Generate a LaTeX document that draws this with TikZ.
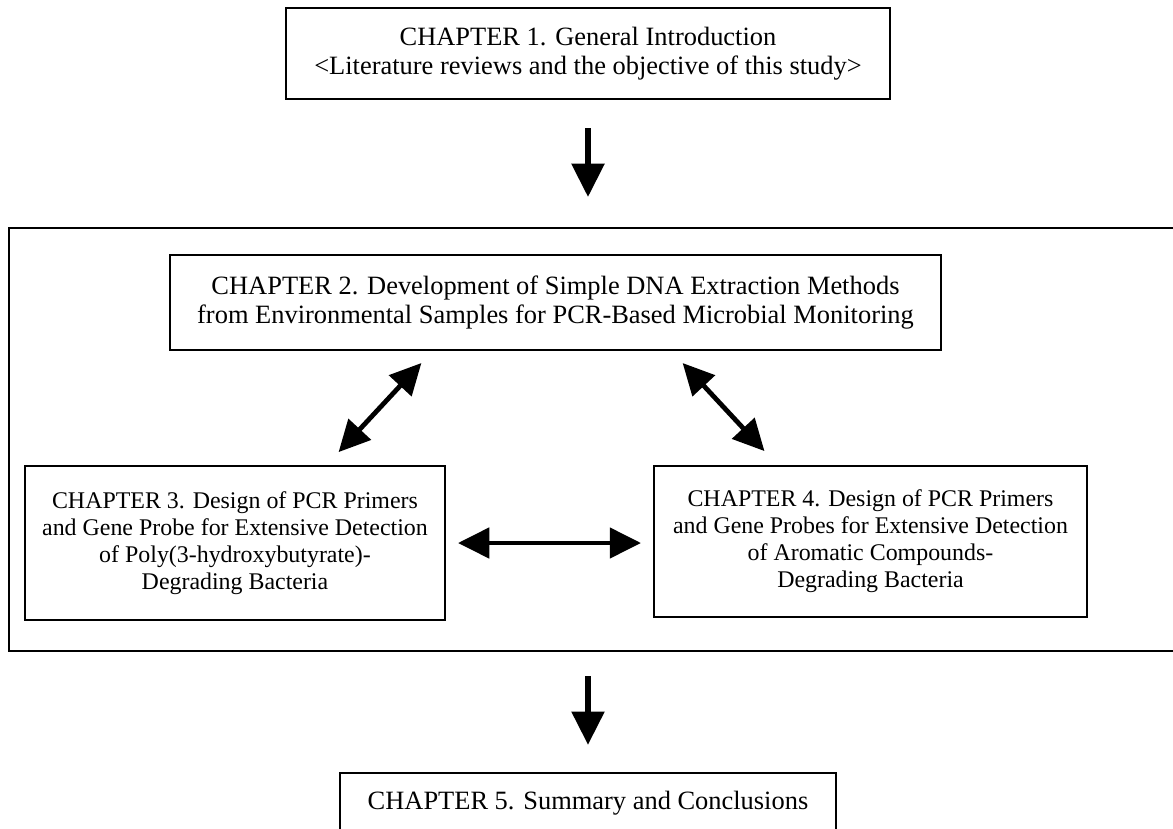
\documentclass[tikz,border=0pt]{standalone}
\usepackage{fontspec}
\setmainfont{Liberation Serif}
\usetikzlibrary{positioning,arrows.meta,calc}
\tikzset{
  box/.style   = {rectangle, draw, line width=1.4pt, align=center,
                  inner xsep=0.7cm, inner ysep=0.2cm,
                  font=\fontsize{18.8}{20.5}\selectfont},
  sidebox/.style = {box, inner xsep=0pt, font=\fontsize{17}{19.2}\selectfont},
  frame/.style = {rectangle, draw, line width=1.4pt},
  arr/.style   = {-{Triangle[length=0.83cm,width=0.8cm]}, line width=3.8pt},
  dbl/.style   = {{Triangle[length=0.78cm,width=0.75cm]}-{Triangle[length=0.78cm,width=0.75cm]},
                  line width=3.4pt}
}
\begin{document}
\begin{tikzpicture}[
      x=0.025cm, y=-0.025cm                  % 1 unit = 1 px of the page
    ]
    \useasboundingbox (0,0) rectangle (1173,829);
    % outer frame round chapters 2-4
    \node[frame, minimum width=29.4cm, minimum height=10.575cm] (grp) at (597,439.5) {};
    \node[box, minimum height=2.275cm] (ch1) at (588,53.5)
      {CHAPTER 1. General Introduction\\
       <Literature reviews and the objective of this study>};
    \node[box, minimum width=19.275cm, minimum height=2.375cm, inner xsep=0pt] (ch2) at (555.5,302.5)
      {CHAPTER 2. Development of Simple DNA Extraction Methods\\
       from Environmental Samples for PCR-Based Microbial Monitoring};
    \node[sidebox, minimum width=10.5cm, minimum height=3.85cm] (ch3) at (235,543)
      {CHAPTER 3. Design of PCR Primers\\
       and Gene Probe for Extensive Detection\\
       of Poly(3-hydroxybutyrate)-\\
       Degrading Bacteria};
    \node[sidebox, minimum width=10.825cm, minimum height=3.775cm] (ch4) at (870.5,541.5)
      {CHAPTER 4. Design of PCR Primers\\
       and Gene Probes for Extensive Detection\\
       of Aromatic Compounds-\\
       Degrading Bacteria};
    \node[box, minimum height=1.5cm] (ch5) at (588,803)
      {CHAPTER 5. Summary and Conclusions};
    % arrows
    \draw[arr, shorten <=0.7cm, shorten >=0.75cm] (ch1.south) -- (ch1.south |- grp.north);
    \draw[arr, shorten <=0.6cm, shorten >=0.68cm] (grp.south -| ch5.north) -- (ch5.north);
    \draw[dbl, shorten <=0.44cm, shorten >=0.41cm]
      ($(ch3.north west)!0.717!(ch3.north east)$) -- ($(ch2.south west)!0.341!(ch2.south east)$);
    \draw[dbl, shorten <=0.41cm, shorten >=0.475cm]
      ($(ch2.south west)!0.650!(ch2.south east)$) -- ($(ch4.north west)!0.286!(ch4.north east)$);
    \draw[dbl, shorten <=0.3cm, shorten >=0.3cm] (ch3.east) -- (ch3.east -| ch4.west);
  \end{tikzpicture}
\end{document}
